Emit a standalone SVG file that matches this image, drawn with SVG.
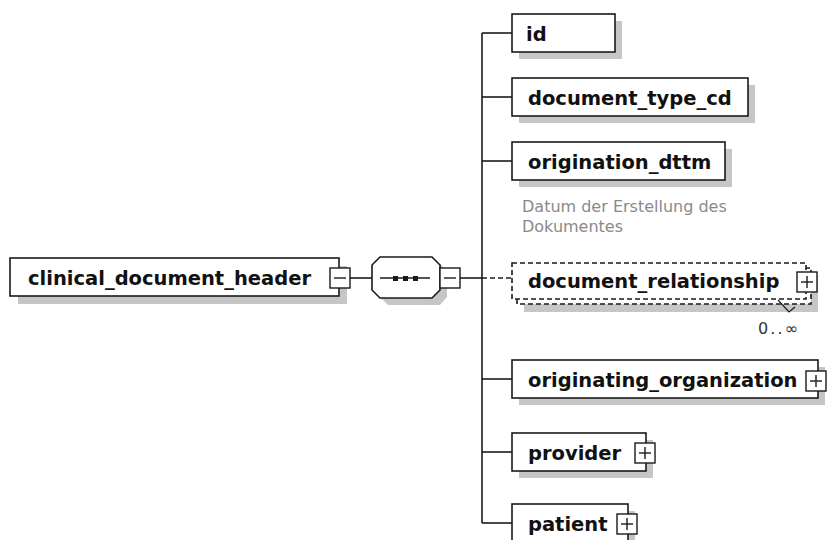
<svg xmlns="http://www.w3.org/2000/svg" xmlns:xlink="http://www.w3.org/1999/xlink" width="827" height="540" viewBox="0 0 827 540">
  <style>
    .shadow { fill: #c6c6c6; }
    .box { fill: #ffffff; stroke: #1a1a1a; stroke-width: 1.6; }
    .dashed { stroke-dasharray: 5 3; }
    .lbl { font-family: "DejaVu Sans", "Liberation Sans", sans-serif; font-weight: bold; font-size: 19.5px; fill: #111111; }
    .note { font-family: "DejaVu Sans", "Liberation Sans", sans-serif; font-size: 16px; fill: #8a8a8a; }
    .occ { font-family: "DejaVu Sans", "Liberation Sans", sans-serif; font-size: 16px; fill: #333333; }
    .wire { stroke: #1a1a1a; stroke-width: 1.6; fill: none; }
    .btn { fill: #ffffff; stroke: #1a1a1a; stroke-width: 1.4; }
    .glyph { stroke: #1a1a1a; stroke-width: 1.4; }
  </style>
  <defs>
    <!-- expand / collapse toggles -->
    <g id="plus">
      <rect class="btn" x="0" y="0" width="20" height="20"/>
      <line class="glyph" x1="4" y1="10" x2="16" y2="10"/>
      <line class="glyph" x1="10" y1="4" x2="10" y2="16"/>
    </g>
    <g id="minus">
      <rect class="btn" x="0" y="0" width="20" height="20"/>
      <line class="glyph" x1="4" y1="10" x2="16" y2="10"/>
    </g>
  </defs>

  <rect x="0" y="0" width="827" height="540" fill="#ffffff"/>

  <!-- connectors -->
  <g id="connectors">
    <line class="wire" x1="350" y1="278" x2="372" y2="278"/>
    <line class="wire" x1="460" y1="278" x2="482" y2="278"/>
    <line class="wire" x1="482" y1="33" x2="482" y2="523"/>
    <line class="wire" x1="482" y1="33" x2="512" y2="33"/>
    <line class="wire" x1="482" y1="97" x2="512" y2="97"/>
    <line class="wire" x1="482" y1="161" x2="512" y2="161"/>
    <line class="wire dashed" x1="482" y1="278" x2="512" y2="278"/>
    <line class="wire" x1="482" y1="379" x2="512" y2="379"/>
    <line class="wire" x1="482" y1="452" x2="512" y2="452"/>
    <line class="wire" x1="482" y1="523" x2="512" y2="523"/>
  </g>

  <!-- root element -->
  <g id="clinical_document_header">
    <rect class="shadow" x="18" y="266" width="329" height="38"/>
    <rect class="box" x="10" y="258" width="329" height="38"/>
    <text class="lbl" x="28" y="285">clinical_document_header</text>
    <use xlink:href="#minus" x="330" y="268"/>
  </g>

  <!-- sequence compositor -->
  <g id="sequence">
    <polygon class="shadow" points="388,264 440,264 447,271 447,297 440,305 388,305 380,297 380,271"/>
    <polygon class="box" points="380,257 432,257 440,265 440,290 432,298 380,298 372,290 372,265"/>
    <line class="wire" x1="380" y1="278" x2="430" y2="278"/>
    <rect x="393" y="276" width="5" height="5" fill="#1a1a1a"/>
    <rect x="403" y="276" width="5" height="5" fill="#1a1a1a"/>
    <rect x="413" y="276" width="5" height="5" fill="#1a1a1a"/>
    <use xlink:href="#minus" x="440" y="268"/>
  </g>

  <g id="id">
    <rect class="shadow" x="519" y="21" width="103" height="38"/>
    <rect class="box" x="512" y="14" width="103" height="38"/>
    <text class="lbl" x="526" y="41">id</text>
  </g>

  <g id="document_type_cd">
    <rect class="shadow" x="519" y="85" width="236" height="38"/>
    <rect class="box" x="512" y="78" width="236" height="38"/>
    <text class="lbl" x="528" y="105">document_type_cd</text>
  </g>

  <g id="origination_dttm">
    <rect class="shadow" x="519" y="149" width="213" height="38"/>
    <rect class="box" x="512" y="142" width="213" height="38"/>
    <text class="lbl" x="528" y="169">origination_dttm</text>
    <text class="note" x="522" y="212">Datum der Erstellung des</text>
    <text class="note" x="522" y="232">Dokumentes</text>
  </g>

  <g id="document_relationship">
    <rect class="shadow" x="524" y="275" width="294" height="37"/>
    <rect class="box dashed" x="517" y="268" width="294" height="36"/>
    <rect class="box dashed" x="512" y="263" width="294" height="36"/>
    <text class="lbl" x="528" y="288">document_relationship</text>
    <use xlink:href="#plus" x="797" y="272"/>
    <polyline class="wire" style="stroke-width:1.2" points="778,300 789,312 795,307"/>
    <text class="occ" x="758" y="334" textLength="40" lengthAdjust="spacing">0..∞</text>
  </g>

  <g id="originating_organization">
    <rect class="shadow" x="519" y="367" width="306" height="38"/>
    <rect class="box" x="512" y="360" width="306" height="38"/>
    <text class="lbl" x="528" y="387">originating_organization</text>
    <use xlink:href="#plus" x="806" y="371"/>
  </g>

  <g id="provider">
    <rect class="shadow" x="519" y="440" width="134" height="38"/>
    <rect class="box" x="512" y="433" width="134" height="38"/>
    <text class="lbl" x="528" y="460">provider</text>
    <use xlink:href="#plus" x="635" y="443"/>
  </g>

  <g id="patient">
    <rect class="shadow" x="519" y="511" width="116" height="38"/>
    <rect class="box" x="512" y="504" width="116" height="38"/>
    <text class="lbl" x="528" y="531">patient</text>
    <use xlink:href="#plus" x="617" y="514"/>
  </g>
</svg>
